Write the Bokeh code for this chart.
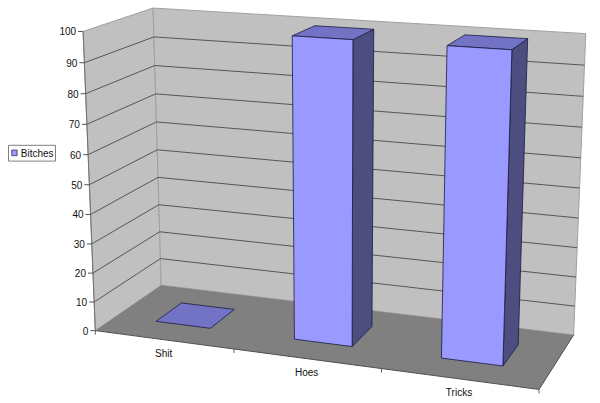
import numpy as np
from bokeh.plotting import figure
from bokeh.models import Range1d
from bokeh.core.properties import value
from bokeh.embed import file_html
from bokeh.resources import INLINE

categories = ["Shit", "Hoes", "Tricks"]
series_name = "Bitches"
series_values = [0, 100, 100]
value_ticks = [0, 10, 20, 30, 40, 50, 60, 70, 80, 90, 100]

FONT = value("Liberation Sans")
WALL, FLOOR, GRID, EDGE = "#C0C0C0", "#808080", "#4A4A4A", "#A0A0A0"
FRONT, TOP, SIDE = "#9999FF", "#7373C6", "#4D4D80"
BAR_LO, BAR_HI = 0.3, 0.7

# Camera of the 3D scene: fitted to where box corners (cat, depth, value) fall on the page.
anchors = [
    (0, 0, 0, 95.0, 329.5), (0, 0, 100, 82.7, 30.7),
    (0, 1, 0, 160.0, 285.0), (0, 1, 100, 152.7, 7.7),
    (3, 1, 0, 573.3, 334.3), (3, 1, 100, 585.7, 33.3),
    (3, 0, 0, 538.3, 388.3),
    (1, 0, 0, 233.3, 350.0), (2, 0, 0, 381.0, 370.0),
    (0.3, 0.3, 0, 155.7, 320.7), (0.7, 0.3, 0, 210.0, 327.3),
    (0.7, 0.7, 0, 233.3, 308.7), (0.3, 0.7, 0, 181.7, 302.7),
    (1.7, 0.3, 100, 352.0, 39.3), (1.7, 0.3, 0, 351.7, 345.7),
    (1.3, 0.3, 100, 292.0, 35.0), (1.3, 0.3, 0, 294.0, 338.0),
    (1.7, 0.7, 100, 372.7, 29.0), (1.7, 0.7, 0, 371.7, 326.0),
    (2.7, 0.3, 100, 511.7, 49.3), (2.7, 0.3, 0, 502.0, 365.0),
    (2.3, 0.3, 100, 446.7, 45.0), (2.3, 0.3, 0, 441.0, 357.3),
    (2.7, 0.7, 100, 526.7, 38.3), (2.7, 0.7, 0, 518.0, 344.3),
]
A, b = [], []
for u, d, v, x, y in anchors:
    w = [u, d, v / 100.0, 1.0]
    A.append(w + [0, 0, 0, 0] + [-x * t for t in w[:3]])
    b.append(x * w[3])
    A.append([0, 0, 0, 0] + w + [-y * t for t in w[:3]])
    b.append(y * w[3])
sol = np.linalg.lstsq(np.array(A), np.array(b), rcond=None)[0]
P = np.append(sol, 1.0).reshape(3, 4)


def proj(u, d, v):
    h = P @ np.array([u, d, v / 100.0, 1.0])
    return float(h[0] / h[2]), float(h[1] / h[2])


def poly(pts):
    q = [proj(*t) for t in pts]
    return [a for a, _ in q], [c for _, c in q]


p = figure(width=600, height=403, output_backend="svg", toolbar_location=None,
           x_range=Range1d(0, 600), y_range=Range1d(403, 0), min_border=0)
p.axis.visible = False
p.grid.visible = False
p.outline_line_color = None
p.background_fill_color = "white"
p.border_fill_color = "white"

n = len(categories)
top_v = value_ticks[-1]

# walls and floor
xs, ys = poly([(0, 0, 0), (0, 1, 0), (0, 1, top_v), (0, 0, top_v)])
p.patch(xs, ys, fill_color=WALL, line_color=EDGE, line_width=1)
xs, ys = poly([(0, 1, 0), (n, 1, 0), (n, 1, top_v), (0, 1, top_v)])
p.patch(xs, ys, fill_color=WALL, line_color=EDGE, line_width=1)
xs, ys = poly([(0, 0, 0), (n, 0, 0), (n, 1, 0), (0, 1, 0)])
p.patch(xs, ys, fill_color=FLOOR, line_color=None)

# gridlines along both walls
for t in value_ticks[1:-1]:
    xs, ys = poly([(0, 0, t), (0, 1, t), (n, 1, t)])
    p.line(xs, ys, line_color=GRID, line_width=0.9)

# axes
xs, ys = poly([(0, 0, 0), (0, 0, top_v)])
p.line(xs, ys, line_color="#707070", line_width=1)
xs, ys = poly([(0, 0, 0), (n, 0, 0), (n, 1, 0)])
p.line(xs, ys, line_color="#505050", line_width=1)

for t in value_ticks:
    x, y = proj(0, 0, t)
    p.segment([x - 5], [y], [x], [y], line_color="#505050", line_width=1)
    p.text([x - 7], [y], text=[str(t)], text_font=FONT, text_font_size="10px",
           text_align="right", text_baseline="middle", text_color="#111111")

for i in range(n + 1):
    x, y = proj(i, 0, 0)
    p.segment([x], [y], [x], [y + 4], line_color="#606060", line_width=1)

for i, c in enumerate(categories):
    x, y = proj(i + 0.5, 0, 0)
    p.text([x], [y + 14], text=[c], text_font=FONT, text_font_size="10px",
           text_align="center", text_baseline="middle", text_color="#111111")

# bars
for i, v in enumerate(series_values):
    l, r = i + BAR_LO, i + BAR_HI
    faces = [
        ([(r, BAR_LO, 0), (r, BAR_HI, 0), (r, BAR_HI, v), (r, BAR_LO, v)], SIDE),
        ([(l, BAR_LO, v), (r, BAR_LO, v), (r, BAR_HI, v), (l, BAR_HI, v)], TOP),
        ([(l, BAR_LO, 0), (r, BAR_LO, 0), (r, BAR_LO, v), (l, BAR_LO, v)], FRONT),
    ]
    for pts, col in faces:
        if v == 0 and col != TOP:
            continue
        xs, ys = poly(pts)
        p.patch(xs, ys, fill_color=col, line_color="#1A1A40", line_width=0.8)

# legend
p.quad(left=[8], right=[55], top=[144.8], bottom=[160.6], fill_color="white",
       line_color="#808080", line_width=1)
p.quad(left=[11.3], right=[16.6], top=[149.5], bottom=[155.2], fill_color=FRONT,
       line_color="#333355", line_width=0.8)
p.text([20.3], [152.6], text=[series_name], text_font=FONT, text_font_size="10px",
       text_align="left", text_baseline="middle", text_color="#111111")

open("out.html", "w").write(file_html(p, INLINE))
